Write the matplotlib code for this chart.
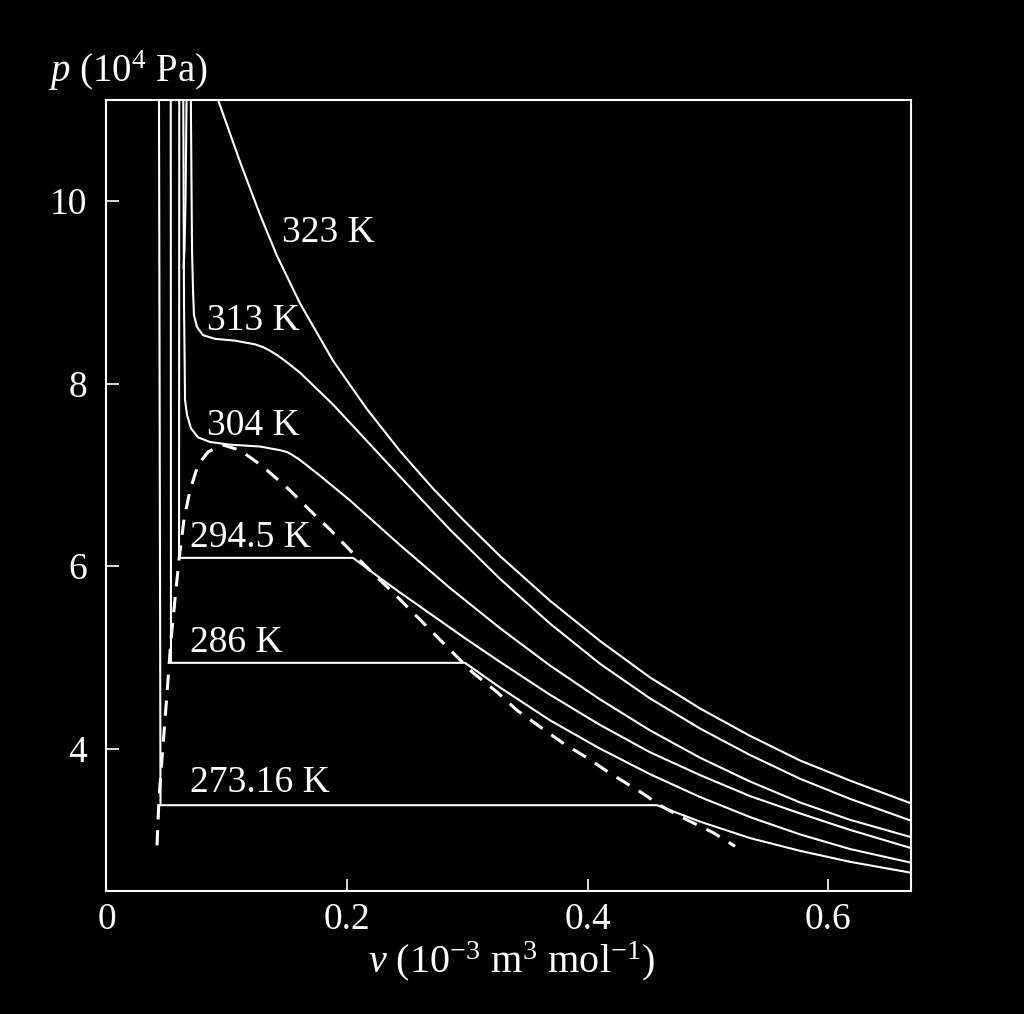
import matplotlib
matplotlib.use("Agg")
import matplotlib.pyplot as plt

plt.rcParams['font.family'] = ['Liberation Serif', 'DejaVu Serif']
plt.rcParams['mathtext.fontset'] = 'custom'
plt.rcParams['mathtext.rm'] = 'Liberation Serif'
plt.rcParams['mathtext.it'] = 'Liberation Serif:italic'

# isotherms, v in 1e-3 m3/mol, p in 1e4 Pa
v_273 = [0.0436, 0.0449, 0.4576, 0.4934, 0.5349, 0.5765, 0.6180, 0.6688]
p_273 = [11.3, 3.38, 3.38, 3.20, 3.02, 2.88, 2.76, 2.64]

v_286 = [0.0534, 0.0536, 0.2980, 0.3271, 0.3687, 0.4102, 0.4518, 0.4934,
         0.5349, 0.5765, 0.6180, 0.6688]
p_286 = [11.3, 4.94, 4.94, 4.67, 4.31, 4.00, 3.72, 3.47, 3.25, 3.06, 2.90, 2.75]

v_294 = [0.0605, 0.0603, 0.2049, 0.2273, 0.2440, 0.2689, 0.2980, 0.3271,
         0.3687, 0.4102, 0.4518, 0.4934, 0.5349, 0.5765, 0.6180, 0.6688]
p_294 = [11.3, 6.09, 6.09, 5.87, 5.71, 5.48, 5.21, 4.95, 4.59, 4.26, 3.96,
         3.71, 3.48, 3.29, 3.11, 2.91]

v_304 = [0.0638, 0.0644, 0.0653, 0.0669, 0.0702, 0.0761, 0.0860, 0.1027,
         0.1276, 0.1442, 0.1500, 0.1542, 0.1600, 0.1650, 0.1775, 0.2024,
         0.2440, 0.2855, 0.3271, 0.3687, 0.4102, 0.4518, 0.4934, 0.5349,
         0.5765, 0.6180, 0.6688]
p_304 = [11.3, 8.92, 7.82, 7.66, 7.51, 7.41, 7.36, 7.33, 7.31, 7.27, 7.25,
         7.22, 7.17, 7.12, 6.99, 6.72, 6.23, 5.76, 5.32, 4.91, 4.54, 4.20,
         3.90, 3.64, 3.41, 3.22, 3.03]

v_313 = [0.0700, 0.0711, 0.0719, 0.0727, 0.0752, 0.0802, 0.0902, 0.1068,
         0.1234, 0.1300, 0.1359, 0.1420, 0.1484, 0.1608, 0.1883, 0.2165,
         0.2440, 0.2855, 0.3271, 0.3687, 0.4102, 0.4518, 0.4934, 0.5349,
         0.5765, 0.6180, 0.6688]
p_313 = [11.3, 9.46, 9.03, 8.75, 8.62, 8.53, 8.49, 8.47, 8.43, 8.40, 8.36,
         8.31, 8.25, 8.12, 7.77, 7.37, 6.98, 6.40, 5.86, 5.37, 4.93, 4.55,
         4.22, 3.93, 3.67, 3.45, 3.21]

v_323 = [0.0905, 0.0927, 0.1110, 0.1276, 0.1417, 0.1608, 0.1883, 0.2165,
         0.2440, 0.2714, 0.2963, 0.3271, 0.3687, 0.4102, 0.4518, 0.4934,
         0.5349, 0.5765, 0.6180, 0.6688]
p_323 = [11.3, 11.11, 10.43, 9.85, 9.40, 8.88, 8.25, 7.72, 7.26, 6.85, 6.51,
         6.11, 5.62, 5.18, 4.78, 4.44, 4.14, 3.87, 3.65, 3.40]
# steep liquid side of the 323 K curve near the left edge
v_323_left = [0.0667, 0.0657, 0.0648, 0.0641]
p_323_left = [11.3, 10.01, 9.46, 9.27]

# two-phase boundary (dashed)
v_dome = [0.0420, 0.0436, 0.0461, 0.0486, 0.0511, 0.0536, 0.0569, 0.0603,
          0.0644, 0.0694, 0.0761, 0.0844, 0.0960, 0.1110, 0.1301, 0.1525,
          0.1692, 0.1858, 0.2049, 0.2215, 0.2382, 0.2548, 0.2714, 0.2880,
          0.3047, 0.3246, 0.3412, 0.3603, 0.3795, 0.3994, 0.4185, 0.4410,
          0.4626, 0.4825, 0.5042, 0.5225]
p_dome = [2.94, 3.44, 3.88, 4.31, 4.75, 5.19, 5.63, 6.07, 6.51, 6.83, 7.11,
          7.25, 7.33, 7.27, 7.09, 6.83, 6.61, 6.40, 6.14, 5.92, 5.71, 5.49,
          5.27, 5.05, 4.83, 4.62, 4.42, 4.24, 4.06, 3.90, 3.73, 3.55, 3.36,
          3.22, 3.08, 2.93]

labels = ['323 K', '313 K', '304 K', '294.5 K', '286 K', '273.16 K']
label_v = [0.1456, 0.0833, 0.0833, 0.0694, 0.0694, 0.0694]
label_p = [9.55, 8.59, 7.44, 6.21, 5.06, 3.52]

xticks = [0, 0.2, 0.4, 0.6]
xtick_labels = ['0', '0.2', '0.4', '0.6']
yticks = [4, 6, 8, 10]

fig = plt.figure(figsize=(10.24, 10.14), dpi=100, facecolor='black')
ax = fig.add_axes([0.104, 0.1213, 0.7856, 0.7801], facecolor='black')

lw = 1.5
for v, p in [(v_273, p_273), (v_286, p_286), (v_294, p_294), (v_304, p_304),
             (v_313, p_313), (v_323, p_323), (v_323_left, p_323_left)]:
    ax.plot(v, p, color='white', linewidth=lw, solid_joinstyle='round')

ax.plot(v_dome, p_dome, color='white', linewidth=2.2, linestyle=(0, (5, 3.5)))

for txt, v, p in zip(labels, label_v, label_p):
    ax.text(v, p, txt, color='white', fontsize=27, ha='left', va='baseline')

ax.set_xlim(0, 0.6687)
ax.set_ylim(2.44, 11.107)

ax.set_xticks(xticks)
ax.set_xticklabels(xtick_labels)
ax.set_yticks(yticks)
ax.tick_params(direction='in', colors='white', labelsize=27, length=9, width=1.2)
ax.tick_params(axis='x', pad=8)
ax.tick_params(axis='y', pad=14)

for s in ax.spines.values():
    s.set_color('white')
    s.set_linewidth(1.5)

fig.text(0.047, 0.919, r'$p$ (10$^4$ Pa)', color='white', fontsize=28,
         ha='left', va='baseline')
fig.text(0.500, 0.041, r'$v$ (10$^{-3}$ m$^3$ mol$^{-1}$)', color='white',
         fontsize=29, ha='center', va='baseline')

fig.savefig('out.png', dpi=100, facecolor='black')
